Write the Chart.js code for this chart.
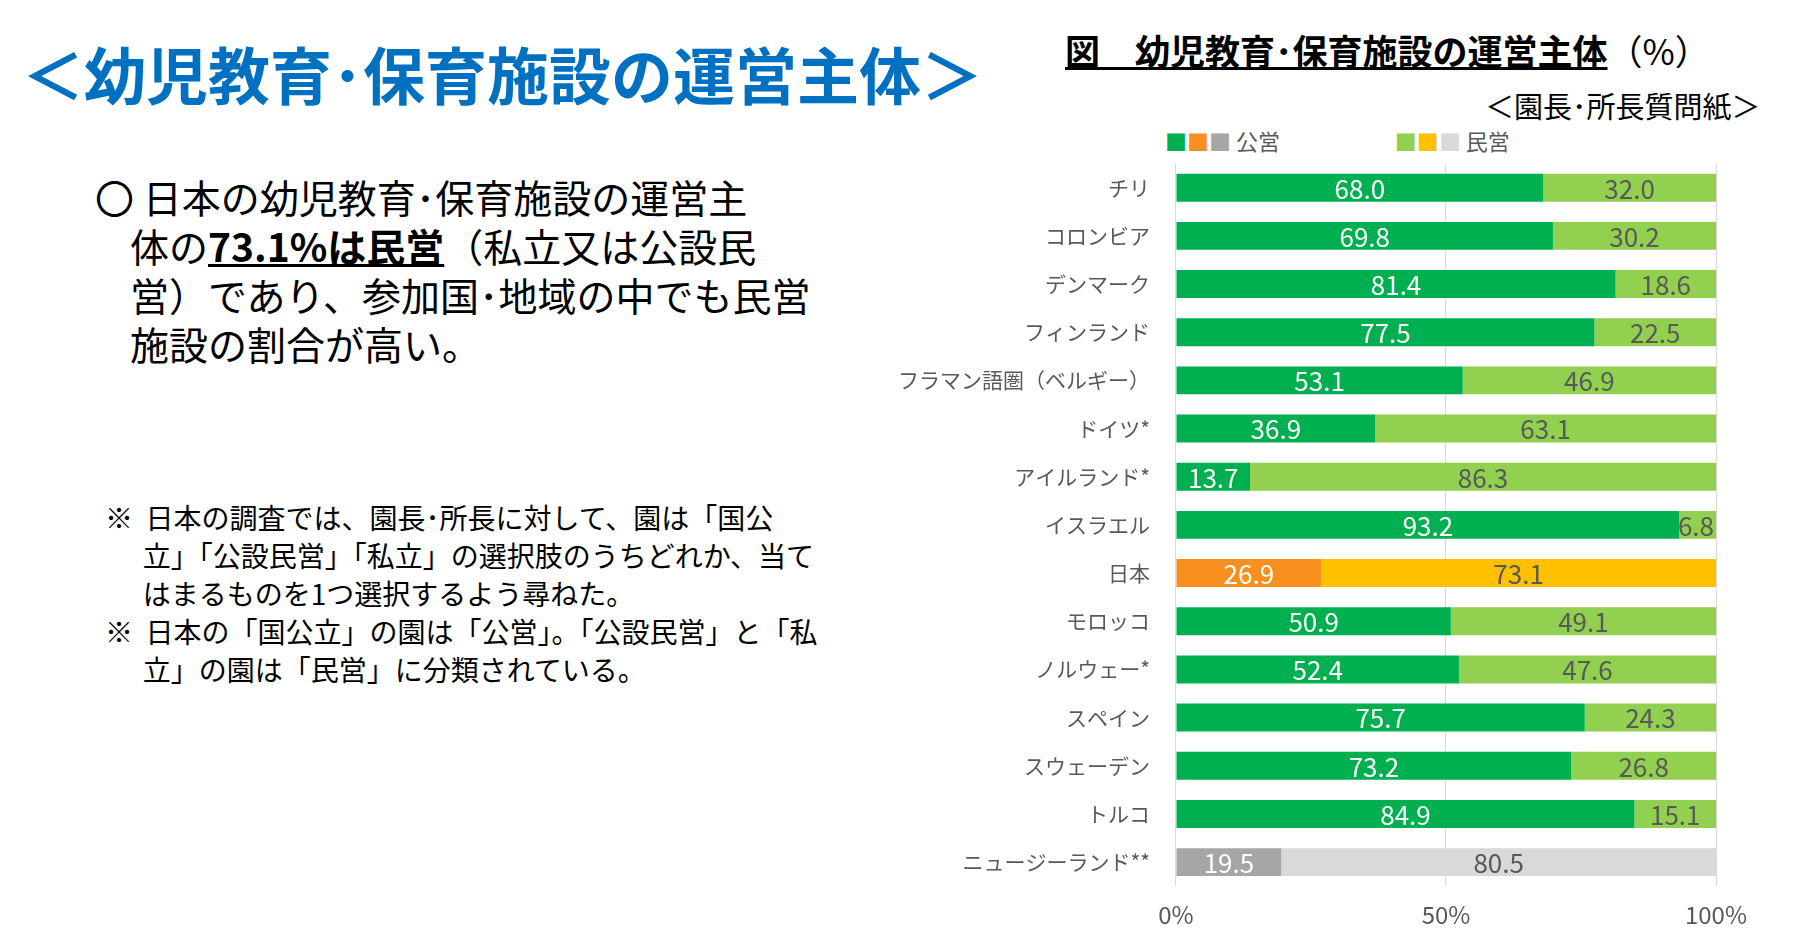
<!DOCTYPE html>
<html><head><meta charset="utf-8">
<script src="https://cdn.jsdelivr.net/npm/chart.js@4"></script>
<style>
body{margin:0;width:1796px;height:952px;background:#fff;font-family:"Noto Sans CJK JP",sans-serif;position:relative;overflow:hidden}
.a{position:absolute;white-space:nowrap}
</style></head><body>
<div class="a" style="left:22px;top:28px;font-size:62px;font-weight:bold;color:#0070C0;letter-spacing:0px">＜幼児教育･保育施設の運営主体＞</div>
<div class="a" style="left:95px;top:172px;font-size:39px;line-height:49px;color:#000">〇 日本の幼児教育･保育施設の運営主<br>&nbsp;&nbsp;&nbsp;&nbsp;体の<b><u>73.1%は民営</u></b>（私立又は公設民<br>&nbsp;&nbsp;&nbsp;&nbsp;営）であり、参加国･地域の中でも民営<br>&nbsp;&nbsp;&nbsp;&nbsp;施設の割合が高い。</div>
<div class="a" style="left:105px;top:498px;font-size:28px;line-height:38px;color:#000">※&nbsp;&nbsp;日本の調査では、園長･所長に対して、園は「国公<br>&nbsp;&nbsp;&nbsp;&nbsp;&nbsp;&nbsp;立」「公設民営」「私立」の選択肢のうちどれか、当て<br>&nbsp;&nbsp;&nbsp;&nbsp;&nbsp;&nbsp;はまるものを1つ選択するよう尋ねた。<br>※&nbsp;&nbsp;日本の「国公立」の園は「公営」。「公設民営」と「私<br>&nbsp;&nbsp;&nbsp;&nbsp;&nbsp;&nbsp;立」の園は「民営」に分類されている。</div>
<div class="a" style="left:1065px;top:24px;font-size:35px;font-weight:bold;color:#000"><u>図　幼児教育･保育施設の運営主体</u><span style="font-weight:normal">（%）</span></div>
<div class="a" style="left:1485px;top:84px;font-size:29px;color:#000">＜園長･所長質問紙＞</div>
<div class="a" style="left:1165px;top:124px;font-size:22px;color:#595959">
<span style="color:#00B050">■</span><span style="color:#F7901E">■</span><span style="color:#A6A6A6">■</span> 公営
<span style="display:inline-block;width:105px"></span>
<span style="color:#92D050">■</span><span style="color:#FFC000">■</span><span style="color:#D9D9D9">■</span> 民営</div>
<div class="a" style="left:880px;top:133px;width:900px;height:810px"><canvas id="c"></canvas></div>
<script>
const countries=['チリ','コロンビア','デンマーク','フィンランド','フラマン語圏（ベルギー）','ドイツ*','アイルランド*','イスラエル','日本','モロッコ','ノルウェー*','スペイン','スウェーデン','トルコ','ニュージーランド**'];
const publicShare=[68.0,69.8,81.4,77.5,53.1,36.9,13.7,93.2,26.9,50.9,52.4,75.7,73.2,84.9,19.5];
const privateShare=[32.0,30.2,18.6,22.5,46.9,63.1,86.3,6.8,73.1,49.1,47.6,24.3,26.8,15.1,80.5];
const pubCol=countries.map((c,i)=>i===8?'#F7901E':i===14?'#A6A6A6':'#00B050');
const privCol=countries.map((c,i)=>i===8?'#FFC000':i===14?'#D9D9D9':'#92D050');
const labelPlugin={id:'lbl',afterDatasetsDraw(ch){const ctx=ch.ctx;ctx.save();ctx.font='26px "Noto Sans CJK JP"';ctx.textBaseline='middle';
ch.data.datasets.forEach((ds,di)=>{ch.getDatasetMeta(di).data.forEach((b,i)=>{const v=ds.data[i];
let x=(b.x+b.base)/2;ctx.textAlign='center';
if(di===1&&v<8){x=b.x-2;ctx.textAlign='right';}
ctx.fillStyle=di===0?'#fff':'#595959';
ctx.fillText(v.toFixed(1),x,b.y+1);});});ctx.restore();}};
new Chart(document.getElementById('c'),{type:'bar',
data:{labels:countries,datasets:[
{label:'公営',data:publicShare,backgroundColor:pubCol,categoryPercentage:1,barPercentage:0.58},
{label:'民営',data:privateShare,backgroundColor:privCol,categoryPercentage:1,barPercentage:0.58}]},
options:{indexAxis:'y',responsive:true,maintainAspectRatio:false,animation:false,
layout:{padding:{right:64}},
plugins:{legend:{display:false},tooltip:{enabled:false}},
scales:{x:{stacked:true,min:0,max:100,ticks:{stepSize:50,callback:v=>v+'%',color:'#595959',font:{size:24,family:'Noto Sans CJK JP'},padding:14},grid:{color:'#D9D9D9',drawTicks:false},border:{display:false}},
y:{stacked:true,ticks:{color:'#595959',font:{size:21,family:'Noto Sans CJK JP'},padding:18},grid:{display:false},border:{display:false}}}},
plugins:[labelPlugin]});
</script>
</body></html>
